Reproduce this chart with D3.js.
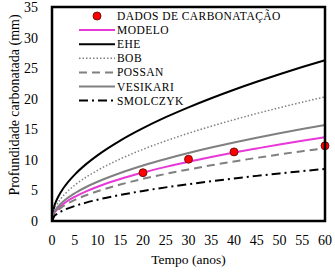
<!DOCTYPE html>
<html>
<head>
<meta charset="utf-8">
<script src="https://cdn.jsdelivr.net/npm/d3@7"></script>
<style>
  body { margin: 0; background: #fff; }
</style>
</head>
<body>
<script>
// tempo (anos) sampled along the curves
const tempo = [0, 0.5, 1, 2, 3, 5, 7.5, 10, 15, 20, 25, 30, 35, 40, 45, 50, 55, 60];

// depths (mm)
const modelo   = [0, 1.25, 1.77, 2.5, 3.07, 3.96, 4.85, 5.6, 6.86, 7.92, 8.85, 9.69, 10.47, 11.2, 11.87, 12.52, 13.13, 13.7];
const ehe      = [0, 2.4, 3.4, 4.8, 5.88, 7.59, 9.3, 10.74, 13.15, 15.18, 16.98, 18.59, 20.08, 21.47, 22.77, 24.0, 25.18, 26.3];
const bob      = [0, 1.85, 2.62, 3.7, 4.54, 5.86, 7.18, 8.28, 10.15, 11.72, 13.1, 14.35, 15.5, 16.57, 17.58, 18.53, 19.43, 20.3];
const possan   = [0, 1.09, 1.54, 2.18, 2.67, 3.44, 4.22, 4.87, 5.96, 6.89, 7.7, 8.43, 9.11, 9.74, 10.33, 10.89, 11.42, 11.9];
const vesikari = [0, 1.43, 2.03, 2.87, 3.52, 4.54, 5.56, 6.42, 7.86, 9.08, 10.15, 11.12, 12.01, 12.84, 13.62, 14.35, 15.05, 15.7];
const smolczyk = [0, 0.78, 1.1, 1.56, 1.91, 2.46, 3.01, 3.48, 4.26, 4.92, 5.5, 6.02, 6.51, 6.96, 7.38, 7.78, 8.16, 8.5];

// measured points
const dadosTempo = [20, 30, 40, 60];
const dadosProf  = [7.9, 10.1, 11.3, 12.3];

const xTicks = [0, 5, 10, 15, 20, 25, 30, 35, 40, 45, 50, 55, 60];
const yTicks = [0, 5, 10, 15, 20, 25, 30, 35];

const width = 335, height = 272;
const margin = { left: 52, right: 10, top: 7, bottom: 51 };
const serif = "'Liberation Serif', 'Times New Roman', Times, serif";

const svg = d3.select("body").append("svg")
    .attr("width", width)
    .attr("height", height)
    .attr("font-family", serif);

const x = d3.scaleLinear().domain([0, 60]).range([margin.left, width - margin.right]);
const y = d3.scaleLinear().domain([0, 35]).range([height - margin.bottom, margin.top]);

const line = d3.line()
    .x((d, i) => x(tempo[i]))
    .y(d => y(d))
    .curve(d3.curveMonotoneX);

const series = [
    { name: "MODELO",   vals: modelo,   color: "#e838d8", w: 2,   dash: null },
    { name: "EHE",      vals: ehe,      color: "#000000", w: 2,   dash: null },
    { name: "BOB",      vals: bob,      color: "#808080", w: 1.5, dash: "1.5,2" },
    { name: "POSSAN",   vals: possan,   color: "#808080", w: 2,   dash: "8,5" },
    { name: "VESIKARI", vals: vesikari, color: "#808080", w: 2,   dash: null },
    { name: "SMOLCZYK", vals: smolczyk, color: "#000000", w: 2,   dash: "9,4,2,4" }
];

// curves
svg.append("g").selectAll("path")
    .data(series)
    .enter()
    .append("path")
    .attr("d", s => line(s.vals))
    .attr("fill", "none")
    .attr("stroke", s => s.color)
    .attr("stroke-width", s => s.w)
    .attr("stroke-dasharray", s => s.dash);

// data points
svg.append("g").selectAll("circle")
    .data(dadosProf)
    .enter()
    .append("circle")
    .attr("cx", (d, i) => x(dadosTempo[i]))
    .attr("cy", d => y(d))
    .attr("r", 4)
    .attr("fill", "#ff0000")
    .attr("stroke", "#600000")
    .attr("stroke-width", 0.8);

// frame
svg.append("rect")
    .attr("x", x(0))
    .attr("y", y(35))
    .attr("width", x(60) - x(0))
    .attr("height", y(0) - y(35))
    .attr("fill", "none")
    .attr("stroke", "#000")
    .attr("stroke-width", 2.5);

// tick labels
svg.append("g").selectAll("text")
    .data(xTicks)
    .enter()
    .append("text")
    .attr("x", d => x(d))
    .attr("y", y(0) + 24)
    .attr("text-anchor", "middle")
    .attr("font-size", 14)
    .text(d => d);

svg.append("g").selectAll("text")
    .data(yTicks)
    .enter()
    .append("text")
    .attr("x", x(0) - 14)
    .attr("y", d => y(d) + 5)
    .attr("text-anchor", "end")
    .attr("font-size", 14)
    .text(d => d);

// axis titles
svg.append("text")
    .attr("x", (x(0) + x(60)) / 2)
    .attr("y", 264)
    .attr("text-anchor", "middle")
    .attr("font-size", 13.5)
    .text("Tempo  (anos)");

svg.append("text")
    .attr("transform", "translate(19,105) rotate(-90)")
    .attr("text-anchor", "middle")
    .attr("font-size", 14)
    .text("Profundidade  carbonatada  (mm)");

// legend
const legend = svg.append("g");
const rowH = 14.1, ly0 = 16;
const items = [{ name: "DADOS DE CARBONATAÇÃO", point: true }].concat(series);

const rows = legend.selectAll("g")
    .data(items)
    .enter()
    .append("g")
    .attr("transform", (d, i) => "translate(0," + (ly0 + i * rowH) + ")");

rows.filter(d => d.point).append("circle")
    .attr("cx", 97).attr("cy", 0).attr("r", 4)
    .attr("fill", "#ff0000").attr("stroke", "#600000").attr("stroke-width", 0.8);

rows.filter(d => !d.point).append("line")
    .attr("x1", 79).attr("x2", 115).attr("y1", 0).attr("y2", 0)
    .attr("stroke", d => d.color)
    .attr("stroke-width", d => d.w)
    .attr("stroke-dasharray", d => d.dash);

rows.append("text")
    .attr("x", 117)
    .attr("y", 4)
    .attr("font-size", 11.5)
    .attr("letter-spacing", 0.45)
    .text(d => d.name);
</script>
</body>
</html>
